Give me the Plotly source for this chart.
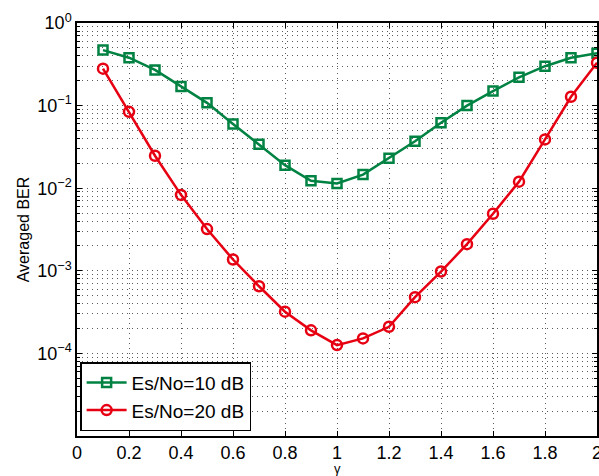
import plotly.graph_objects as go

gamma = [0.1, 0.2, 0.3, 0.4, 0.5, 0.6, 0.7, 0.8, 0.9, 1.0, 1.1, 1.2, 1.3, 1.4, 1.5, 1.6, 1.7, 1.8, 1.9, 2.0]
ber_10dB = [0.47, 0.38, 0.27, 0.17, 0.108, 0.060, 0.034, 0.019, 0.0123, 0.0114, 0.0146, 0.023, 0.037, 0.062, 0.10, 0.15, 0.22, 0.30, 0.38, 0.43]
ber_20dB = [0.28, 0.084, 0.0247, 0.0083, 0.0032, 0.00137, 0.00065, 0.00032, 0.00019, 0.000126, 0.000152, 0.00021, 0.00048, 0.00098, 0.0021, 0.0049, 0.012, 0.039, 0.128, 0.33]
series_names = ["Es/No=10 dB", "Es/No=20 dB"]
xtick_vals = [0, 0.2, 0.4, 0.6, 0.8, 1, 1.2, 1.4, 1.6, 1.8, 2]
xtick_text = ["0", "0.2", "0.4", "0.6", "0.8", "1", "1.2", "1.4", "1.6", "1.8", "2"]
ytick_vals = [1e-5, 1e-4, 1e-3, 1e-2, 1e-1, 1]
ytick_text = ["", "10<sup>\u22124</sup>", "10<sup>\u22123</sup>", "10<sup>\u22122</sup>", "10<sup>\u22121</sup>", "10<sup>0</sup>"]
x_title = "\u03b3"
y_title = "Averaged BER"

green = "rgb(0,130,66)"
red = "rgb(230,0,18)"

fig = go.Figure()
fig.add_trace(go.Scatter(
    x=gamma, y=ber_10dB, name=series_names[0], mode="lines+markers",
    line=dict(color=green, width=2.5),
    marker=dict(symbol="square-open", size=9, color=green, line=dict(width=2.5, color=green)),
    cliponaxis=False,
))
fig.add_trace(go.Scatter(
    x=gamma, y=ber_20dB, name=series_names[1], mode="lines+markers",
    line=dict(color=red, width=2.5),
    marker=dict(symbol="circle-open", size=10, color=red, line=dict(width=2.5, color=red)),
    cliponaxis=False,
))

grid_color = "rgb(90,90,90)"
dots = "1px,4px"
fig.update_layout(
    width=599, height=476,
    margin=dict(l=77, r=2, t=23, b=40, autoexpand=False),
    paper_bgcolor="white", plot_bgcolor="white",
    font=dict(family="Liberation Sans, Arial, sans-serif", color="black", size=15),
    showlegend=True,
    legend=dict(
        x=0.006, y=0.012, xanchor="left", yanchor="bottom",
        bgcolor="white", bordercolor="black", borderwidth=1.5,
        font=dict(size=19), tracegroupgap=0, itemwidth=40,
    ),
)
fig.add_annotation(
    text=x_title, xref="paper", yref="paper", x=0.5, y=-0.079,
    xanchor="center", yanchor="middle", showarrow=False, font=dict(size=13),
)
fig.update_xaxes(
    range=[0, 2], tickvals=xtick_vals, ticktext=xtick_text,
    showline=True, linecolor="black", linewidth=1.5, mirror="ticks",
    ticks="inside", ticklen=5, tickcolor="black",
    showgrid=True, gridcolor=grid_color, griddash=dots, gridwidth=1,
    zeroline=False, tickfont=dict(size=18), automargin=False,
    ticklabeloverflow="allow",
)
fig.update_yaxes(
    type="log", range=[-5, 0], tickvals=ytick_vals, ticktext=ytick_text,
    showline=True, linecolor="black", linewidth=1.5, mirror="ticks",
    ticks="inside", ticklen=5, tickcolor="black",
    showgrid=True, gridcolor=grid_color, griddash=dots, gridwidth=1,
    minor=dict(dtick="D1", showgrid=True, gridcolor=grid_color, griddash=dots, gridwidth=1,
               ticks="inside", ticklen=3, tickcolor="black"),
    zeroline=False, tickfont=dict(size=18), automargin=False,
    ticklabeloverflow="allow",
    title=dict(text=y_title, font=dict(size=16), standoff=4),
)

fig.write_html("out.html", config={"displayModeBar": False},
               post_script="document.body.style.margin='0';document.body.style.overflow='hidden';")
